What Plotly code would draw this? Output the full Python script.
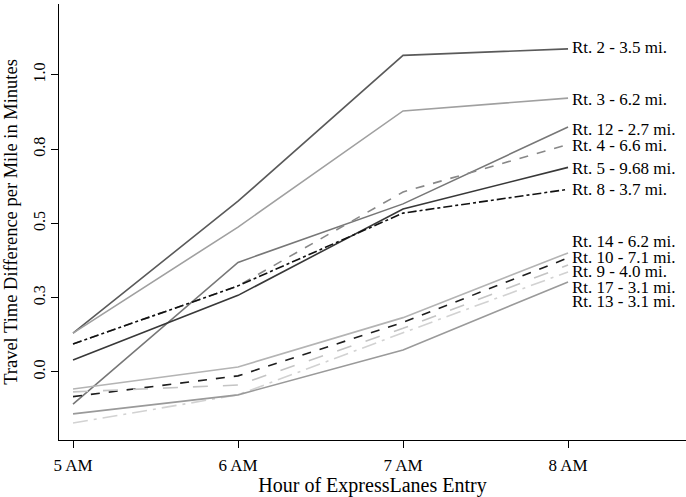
import plotly.graph_objects as go

hours = [5, 6, 7, 8]
hour_labels = ["5 AM", "6 AM", "7 AM", "8 AM"]

routes = ["Rt. 2 - 3.5 mi.", "Rt. 3 - 6.2 mi.", "Rt. 12 - 2.7 mi.", "Rt. 4 - 6.6 mi.",
          "Rt. 5 - 9.68 mi.", "Rt. 8 - 3.7 mi.", "Rt. 14 - 6.2 mi.", "Rt. 10 - 7.1 mi.",
          "Rt. 9 - 4.0 mi.", "Rt. 17 - 3.1 mi.", "Rt. 13 - 3.1 mi."]

rt2 = [0.131, 0.575, 1.066, 1.088]
rt3 = [0.131, 0.488, 0.879, 0.922]
rt12 = [-0.108, 0.369, 0.566, 0.825]
rt4 = [0.094, 0.290, 0.606, 0.766]
rt5 = [0.040, 0.258, 0.549, 0.689]
rt8 = [0.094, 0.290, 0.535, 0.615]
rt14 = [-0.057, 0.017, 0.183, 0.401]
rt10 = [-0.083, -0.013, 0.167, 0.384]
rt9 = [-0.067, -0.044, 0.147, 0.360]
rt17 = [-0.172, -0.077, 0.132, 0.337]
rt13 = [-0.141, -0.077, 0.074, 0.303]

series = [rt2, rt3, rt12, rt4, rt5, rt8, rt14, rt10, rt9, rt17, rt13]

y_tickvals = [0.0, 0.25, 0.5, 0.75, 1.0]
y_ticktext = ["0.0", "0.3", "0.5", "0.8", "1.0"]

# label placement (data units on y axis), styles
label_y = [1.091, 0.919, 0.818, 0.764, 0.684, 0.613, 0.438, 0.387, 0.340, 0.286, 0.236]
colors = ["#5a5a5a", "#a0a0a0", "#777777", "#888888", "#383838", "#111111",
          "#b4b4b4", "#1e1e1e", "#c4c4c4", "#d2d2d2", "#9a9a9a"]
dashes = ["solid", "solid", "solid", "dash", "solid", "dashdot",
          "solid", "dash", "longdash", "longdashdot", "solid"]

FONT = "Liberation Serif, Times New Roman, serif"

fig = go.Figure()
for name, vals, c, d in zip(routes, series, colors, dashes):
    fig.add_trace(go.Scatter(x=hours, y=vals, mode="lines", name=name,
                             line=dict(color=c, width=1.6, dash=d),
                             showlegend=False))

for name, ly, c in zip(routes, label_y, colors):
    fig.add_annotation(x=hours[-1], y=ly, text=name, showarrow=False,
                       xanchor="left", yanchor="middle", xshift=2,
                       font=dict(family=FONT, size=17, color="#000"))

fig.update_layout(
    width=686, height=497,
    margin=dict(l=59, r=0, t=4, b=57),
    paper_bgcolor="white", plot_bgcolor="white",
    font=dict(family=FONT, size=17, color="#000"),
    xaxis=dict(range=[4.915, 8.715], tickvals=hours, ticktext=hour_labels,
               showgrid=False, zeroline=False, showline=True, linecolor="#000",
               linewidth=1.2, ticks="outside", ticklen=7, tickcolor="#000",
               ticklabelstandoff=2,
               title=dict(text="Hour of ExpressLanes Entry", standoff=0,
                          font=dict(family=FONT, size=20, color="#000")),
               tickfont=dict(family=FONT, size=17, color="#000")),
    yaxis=dict(range=[-0.229, 1.239], tickvals=y_tickvals, ticktext=y_ticktext,
               showgrid=False, zeroline=False, showline=True, linecolor="#000",
               linewidth=1.2, ticks="outside", ticklen=7, tickcolor="#000",
               tickangle=-90,
               title=dict(text="Travel Time Difference per Mile in Minutes", standoff=8,
                          font=dict(family=FONT, size=18.5, color="#000")),
               tickfont=dict(family=FONT, size=16, color="#000")),
)

fig.write_html("out.html")
